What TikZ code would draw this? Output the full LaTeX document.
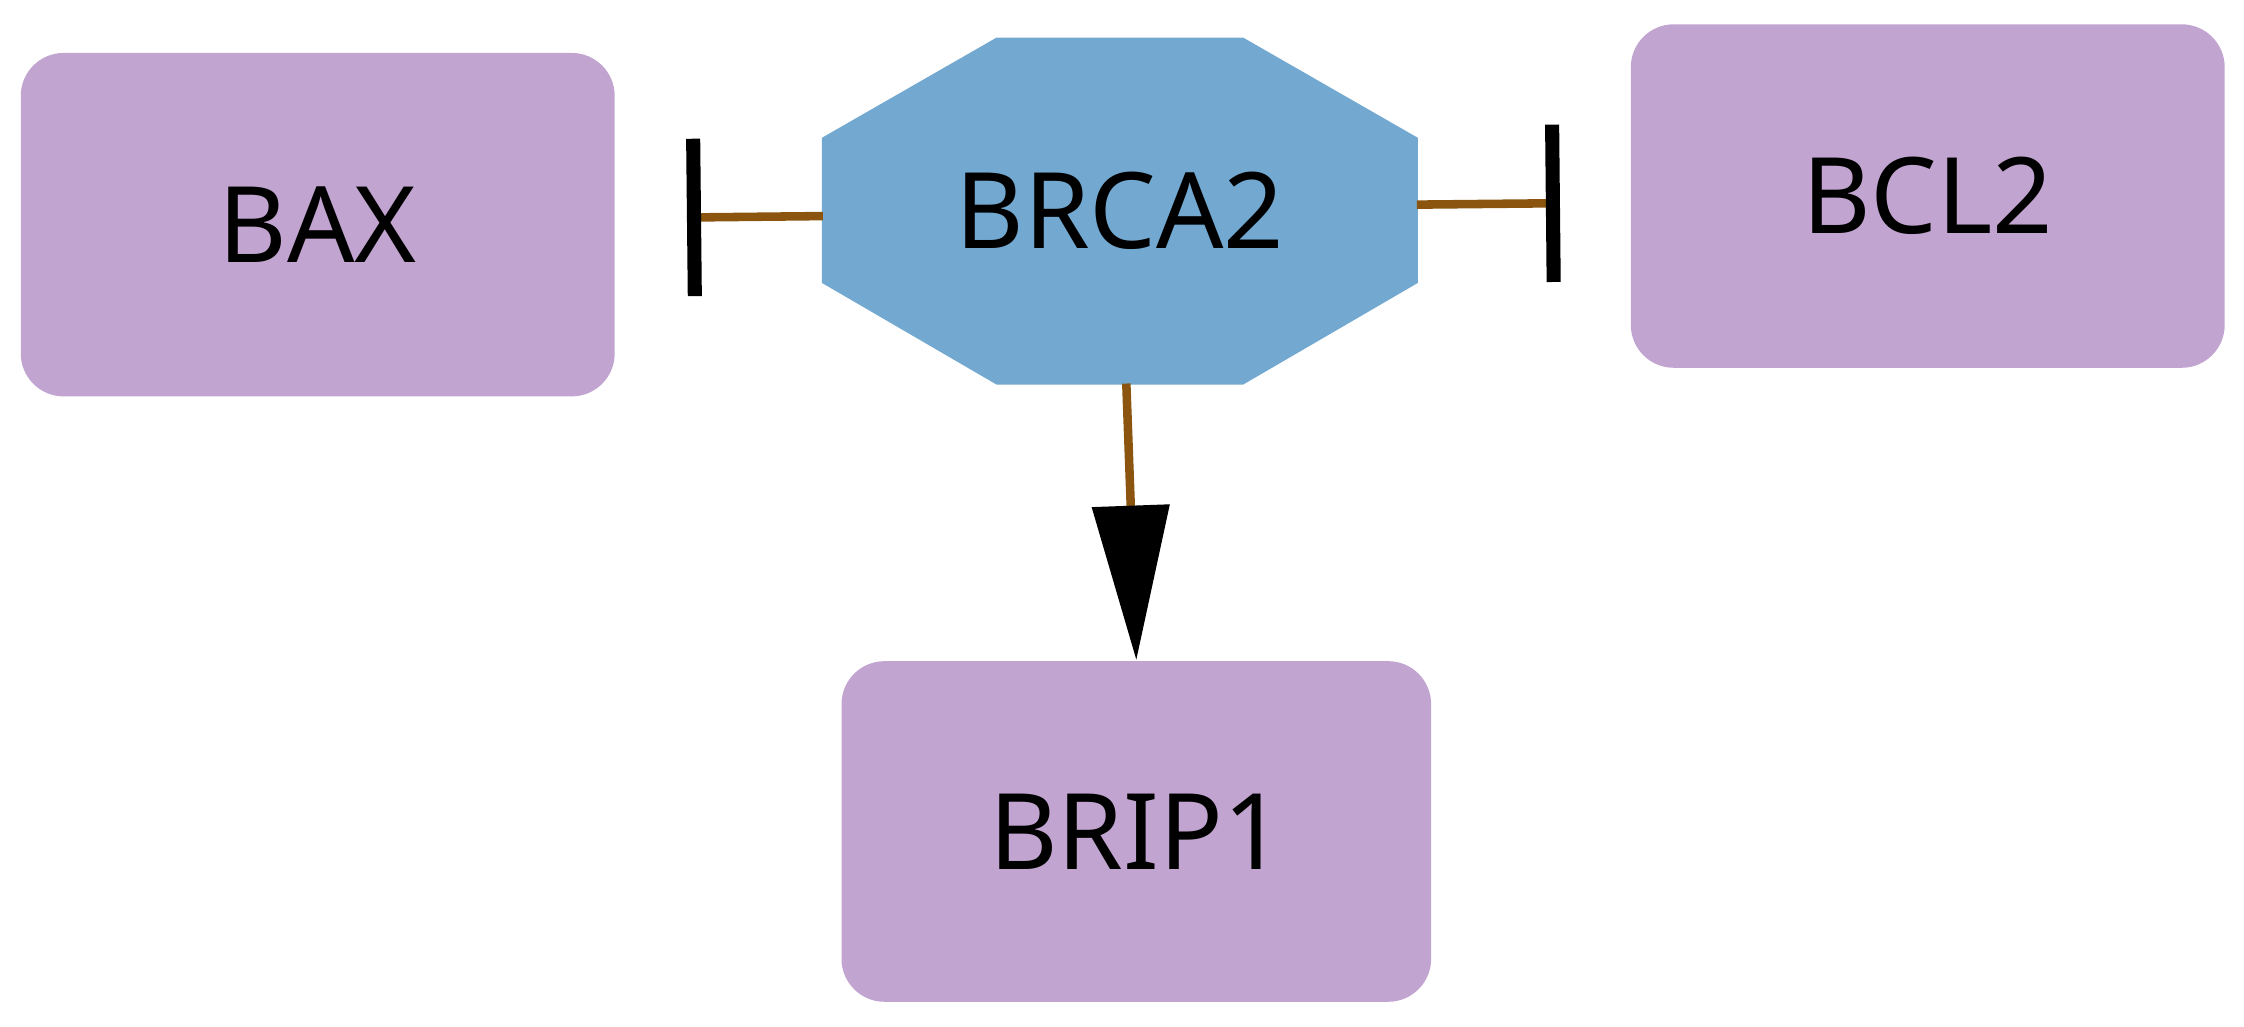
\documentclass[tikz,border=0pt]{standalone}
\usepackage{fontspec}
\setmainfont{Noto Sans}
\usetikzlibrary{arrows.meta,calc}
\definecolor{boxpurple}{HTML}{C1A4CF}
\definecolor{octblue}{HTML}{73A9D0}
\definecolor{edgebrown}{HTML}{8B5510}
\tikzset{
  gene/.style={fill=boxpurple,rounded corners=0.3cm,minimum width=4.15cm,minimum height=2.4cm,inner sep=0,font=\fontsize{21}{25}\selectfont},
  link/.style={draw=edgebrown,line width=1.7pt},
  inhib/.style={link,-{Bar[width=1.1cm,line width=2.8pt,color=black]}},
  activ/.style={link,-{Triangle[length=1.08cm,width=0.53cm,color=black]}}
}
\begin{document}
\begin{tikzpicture}
\useasboundingbox (0,0) rectangle (15.68,-7.17);
\node[gene] (bax) at (2.22,-1.57) {BAX};
\node[gene] (bcl) at (13.47,-1.37) {BCL2};
\node[gene,minimum width=4.12cm,minimum height=2.38cm] (brip) at (7.94,-5.81) {BRIP1};
\node[inner sep=0,minimum width=4.15cm,minimum height=2.41cm,font=\fontsize{21}{25}\selectfont] (brca) at (7.825,-1.475) {};
\fill[octblue] ($(brca.north west)+(1.22,0)$) -- ($(brca.north east)+(-1.22,0)$) -- ($(brca.north east)+(0,-0.7)$) -- ($(brca.south east)+(0,0.71)$) -- ($(brca.south east)+(-1.22,0)$) -- ($(brca.south west)+(1.22,0)$) -- ($(brca.south west)+(0,0.71)$) -- ($(brca.north west)+(0,-0.7)$) -- cycle;
\node[font=\fontsize{21}{25}\selectfont] at (brca.center) {BRCA2};
\coordinate (baxend) at (4.80,-1.52);
\coordinate (bclend) at (10.90,-1.42);
\draw[inhib] (5.75,-1.51) -- (baxend);
\draw[inhib] (9.90,-1.43) -- (bclend);
\draw[activ] (7.87,-2.68) -- (brip.north);
\end{tikzpicture}
\end{document}
